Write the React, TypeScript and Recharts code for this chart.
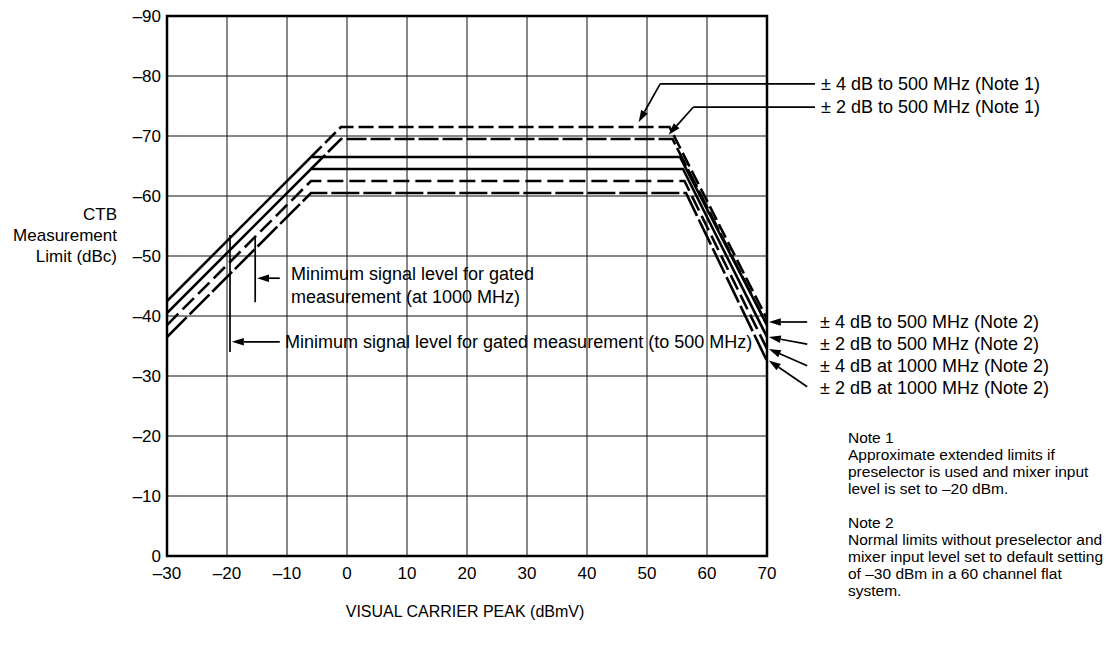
import React from 'react';
import {
  LineChart,
  Line,
  XAxis,
  YAxis,
  CartesianGrid,
  ReferenceLine,
  ReferenceArea,
} from 'recharts';

const xTicks = [-30, -20, -10, 0, 10, 20, 30, 40, 50, 60, 70];
const yTicks = [-90, -80, -70, -60, -50, -40, -30, -20, -10, 0];

// curve vertices: [visual carrier peak (dBmV), CTB limit (dBc)]
const note1Wide = [[-6, -66.5], [-1, -71.5], [53.75, -71.5], [70, -39.5]];
const note1Narrow = [[-6, -64.5], [-1, -69.5], [54.25, -69.5], [70, -38.5]];
const wide500 = [[-30, -42.5], [-6, -66.5], [55.5, -66.5], [70, -38.5]];
const narrow500 = [[-30, -40.5], [-6, -64.5], [56, -64.5], [70, -36.5]];
const wide1000 = [[-30, -38.5], [-6, -62.5], [56.25, -62.5], [70, -34.5]];
const narrow1000 = [[-30, -36.5], [-6, -60.5], [56.5, -60.5], [70, -32.5]];

const rightLabels = [
  '± 4 dB to 500 MHz (Note 2)',
  '± 2 dB to 500 MHz (Note 2)',
  '± 4 dB at 1000 MHz (Note 2)',
  '± 2 dB at 1000 MHz (Note 2)',
];
const note1Lines = [
  'Note 1',
  'Approximate extended limits if',
  'preselector is used and mixer input',
  'level is set to –20 dBm.',
];
const note2Lines = [
  'Note 2',
  'Normal limits without preselector and',
  'mixer input level set to default setting',
  'of –30 dBm in a 60 channel flat',
  'system.',
];

const toPoints = (v: number[][]) => v.map(([x, y]) => ({ x, y }));

const series = [
  { key: 'n1w', data: note1Wide, dash: '15 5' },
  { key: 'n1n', data: note1Narrow, dash: '20 4' },
  { key: 'w500', data: wide500, dash: undefined },
  { key: 'n500', data: narrow500, dash: undefined },
  { key: 'w1000', data: wide1000, dash: '16 6' },
  { key: 'n1000', data: narrow1000, dash: '28 4' },
];

const FONT = '"Liberation Sans", Arial, Helvetica, sans-serif';

// line with a filled arrowhead at its second point
const ArrowShape = (props: any) => {
  const { x1, y1, x2, y2 } = props;
  const ang = Math.atan2(y2 - y1, x2 - x1);
  const len = 12;
  const half = 3.8;
  const bx = x2 - len * Math.cos(ang);
  const by = y2 - len * Math.sin(ang);
  const px = -Math.sin(ang) * half;
  const py = Math.cos(ang) * half;
  return (
    <g>
      <line x1={x1} y1={y1} x2={bx} y2={by} stroke="#000" strokeWidth={1.7} />
      <polygon
        points={`${x2},${y2} ${bx + px},${by + py} ${bx - px},${by - py}`}
        fill="#000"
      />
    </g>
  );
};

const PlainShape = (props: any) => {
  const { x1, y1, x2, y2 } = props;
  return <line x1={x1} y1={y1} x2={x2} y2={y2} stroke="#000" strokeWidth={1.7} />;
};

type Seg = { from: [number, number]; to: [number, number]; arrow?: boolean };

const annotations: Seg[] = [
  // Note 1 leaders
  { from: [78, -78.7], to: [52.2, -78.7] },
  { from: [52.2, -78.7], to: [48.6, -72.3], arrow: true },
  { from: [78, -74.8], to: [57.7, -74.8] },
  { from: [57.7, -74.8], to: [53.6, -70.2], arrow: true },
  // Note 2 leaders
  { from: [76.7, -39], to: [70.3, -39], arrow: true },
  { from: [76.7, -35.3], to: [70.3, -36.5], arrow: true },
  { from: [76.7, -31.7], to: [70.3, -34.5], arrow: true },
  { from: [76.7, -28.2], to: [70.3, -32.6], arrow: true },
  // minimum signal markers
  { from: [-19.5, -53.5], to: [-19.5, -34] },
  { from: [-11.2, -35.7], to: [-19.2, -35.7], arrow: true },
  { from: [-15.3, -53], to: [-15.3, -42.3] },
  { from: [-11.2, -46.3], to: [-15, -46.3], arrow: true },
];

const Txt: React.FC<{ x: number; y: number; size: number; align?: 'left' | 'right' | 'center'; children: React.ReactNode }> = ({
  x,
  y,
  size,
  align = 'left',
  children,
}) => {
  const lh = Math.round(size * 1.15);
  const shift = align === 'right' ? '-100%' : align === 'center' ? '-50%' : '0';
  return (
    <div
      style={{
        position: 'absolute',
        left: x,
        top: y - lh / 2,
        lineHeight: `${lh}px`,
        fontSize: size,
        fontFamily: FONT,
        color: '#000',
        whiteSpace: 'nowrap',
        transform: `translateX(${shift})`,
      }}
    >
      {children}
    </div>
  );
};

const fmt = (v: number) => (v < 0 ? `–${-v}` : `${v}`);

export default function App() {
  return (
    <div style={{ position: 'absolute', left: 0, top: 0, width: 1109, height: 658, background: '#fff' }}>
      <LineChart
        width={1109}
        height={658}
        margin={{ top: 16, right: 342, bottom: 72, left: 127 }}
      >
        <CartesianGrid stroke="#111" strokeWidth={1} horizontalValues={yTicks} verticalValues={xTicks} />
        <XAxis
          type="number"
          dataKey="x"
          domain={[-30, 70]}
          ticks={xTicks}
          tickFormatter={fmt}
          allowDataOverflow
          height={30}
          tickSize={0}
          tickMargin={11}
          axisLine={false}
          tick={{ fill: '#000', fontSize: 17, fontFamily: FONT }}
        />
        <YAxis
          type="number"
          dataKey="y"
          domain={[-90, 0]}
          ticks={yTicks}
          reversed
          allowDataOverflow
          tickFormatter={fmt}
          width={40}
          tickSize={0}
          tickMargin={6}
          axisLine={false}
          tick={{ fill: '#000', fontSize: 17, fontFamily: FONT }}
        />
        <ReferenceArea
          x1={-30}
          x2={70}
          y1={-90}
          y2={0}
          fill="none"
          stroke="#000"
          strokeWidth={2.5}
          ifOverflow="visible"
        />
        {series.map((s) => (
          <Line
            key={s.key}
            data={toPoints(s.data)}
            dataKey="y"
            type="linear"
            stroke="#000"
            strokeWidth={2.6}
            strokeDasharray={s.dash}
            dot={false}
            activeDot={false}
            isAnimationActive={false}
          />
        ))}
        {annotations.map((a, i) => (
          <ReferenceLine
            key={`ann-${i}`}
            segment={[
              { x: a.from[0], y: a.from[1] },
              { x: a.to[0], y: a.to[1] },
            ]}
            ifOverflow="visible"
            shape={a.arrow ? ArrowShape : PlainShape}
          />
        ))}
      </LineChart>

      {/* axis titles */}
      <Txt x={117} y={215} size={17} align="right">CTB</Txt>
      <Txt x={117} y={236} size={17} align="right">Measurement</Txt>
      <Txt x={117} y={257} size={17} align="right">Limit (dBc)</Txt>
      <Txt x={465} y={612} size={16} align="center">VISUAL CARRIER PEAK (dBmV)</Txt>

      {/* minimum signal level notes */}
      <Txt x={291} y={274} size={18}>Minimum signal level for gated</Txt>
      <Txt x={291} y={297} size={18}>measurement (at 1000 MHz)</Txt>
      <Txt x={285} y={342} size={18}>Minimum signal level for gated measurement (to 500 MHz)</Txt>

      {/* curve labels */}
      <Txt x={821} y={84} size={18}>± 4 dB to 500 MHz (Note 1)</Txt>
      <Txt x={821} y={107} size={18}>± 2 dB to 500 MHz (Note 1)</Txt>
      {rightLabels.map((t, i) => (
        <Txt key={t} x={820} y={322 + i * 22} size={18}>{t}</Txt>
      ))}

      {note1Lines.map((t, i) => (
        <Txt key={t} x={848} y={438 + i * 17} size={15.5}>{t}</Txt>
      ))}
      {note2Lines.map((t, i) => (
        <Txt key={t} x={848} y={523 + i * 17} size={15.5}>{t}</Txt>
      ))}
    </div>
  );
}
